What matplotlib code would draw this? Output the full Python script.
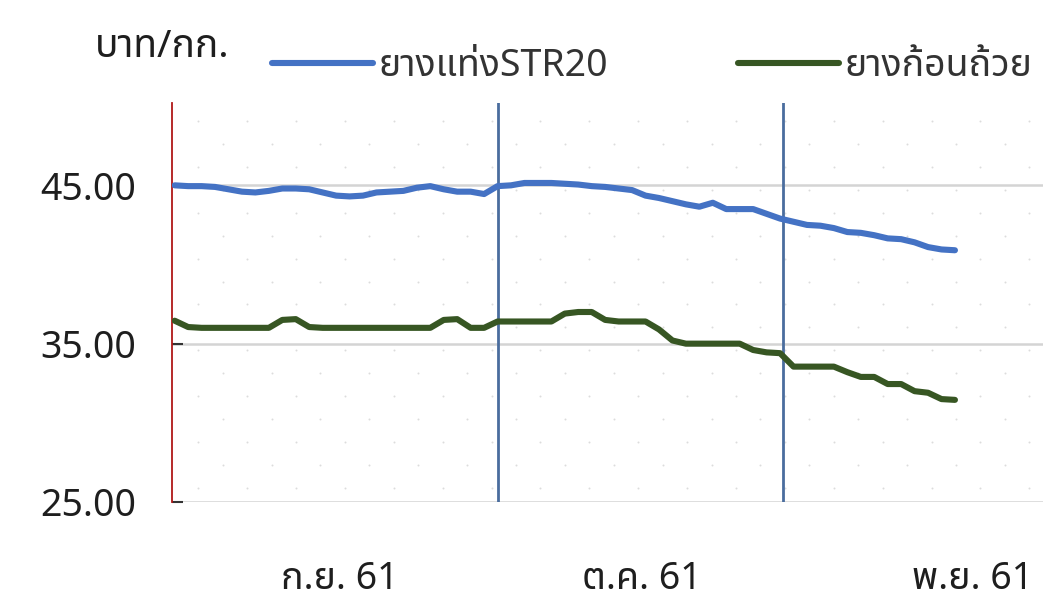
import matplotlib
matplotlib.use("Agg")
import matplotlib.pyplot as plt
from matplotlib import font_manager
import numpy as np

# pick an installed font that has Thai glyphs
names = {f.name for f in font_manager.fontManager.ttflist}
prefer = ["Noto Sans Thai", "Noto Sans Thai UI", "Sarabun", "IBM Plex Sans Thai", "Anuphan", "Bai Jamjuree"]
thai = next((n for n in prefer if n in names), "DejaVu Sans")
plt.rcParams["font.family"] = [thai, "Noto Sans", "DejaVu Sans"]

# daily prices, Sep - Nov 2018 (baht/kg)
str20 = [45.0, 44.95, 44.95, 44.9, 44.75, 44.6, 44.55, 44.65, 44.8, 44.8,
         44.75, 44.55, 44.35, 44.3, 44.35, 44.55, 44.6, 44.65, 44.85, 44.95,
         44.75, 44.6, 44.6, 44.45, 44.95, 45.0, 45.15, 45.15, 45.15, 45.1,
         45.05, 44.95, 44.9, 44.8, 44.7, 44.35, 44.2, 44.0, 43.8, 43.65,
         43.9, 43.5, 43.5, 43.5, 43.2, 42.9, 42.7, 42.5, 42.45, 42.3,
         42.05, 42.0, 41.85, 41.65, 41.6, 41.4, 41.1, 40.95, 40.9]
cup_lump = [36.45, 36.05, 36.0, 36.0, 36.0, 36.0, 36.0, 36.0, 36.5, 36.55,
            36.05, 36.0, 36.0, 36.0, 36.0, 36.0, 36.0, 36.0, 36.0, 36.0,
            36.5, 36.55, 36.0, 36.0, 36.4, 36.4, 36.4, 36.4, 36.4, 36.9,
            37.0, 37.0, 36.5, 36.4, 36.4, 36.4, 35.9, 35.2, 35.0, 35.0,
            35.0, 35.0, 35.0, 34.6, 34.45, 34.4, 33.55, 33.55, 33.55, 33.55,
            33.2, 32.9, 32.9, 32.45, 32.45, 32.0, 31.9, 31.5, 31.45]
days = np.arange(len(str20))

month_breaks = [24, 45.2]
month_pos = [12.3, 34.7, 59.3]
month_labels = ["ก.ย. 61", "ต.ค. 61", "พ.ย. 61"]
yticks = [25, 35, 45]

fig = plt.figure(figsize=(10.43, 6.05), dpi=100)
ax = fig.add_axes([172 / 1043, 103 / 605, 1 - 172 / 1043 + 0.002, 399 / 605])

# faint dotted pattern of the plot area
for r, yy in enumerate(np.arange(0.035, 1.0, 0.0575)):
    xx = np.arange(0.03 + (r % 2) * 0.028, 1.0, 0.056)
    ax.scatter(xx, np.full_like(xx, yy), s=2, color="#dcdcdc", transform=ax.transAxes,
               zorder=0, linewidths=0)

for y in yticks:
    ax.axhline(y, color="#d4d4d4", lw=1.8, zorder=1)

for b in month_breaks:
    ax.axvline(b, color="#4a6d9e", lw=2, zorder=3)

ax.plot(days, str20, color="#4472c4", lw=4.4, label="ยางแท่งSTR20", zorder=4,
        solid_joinstyle="round", solid_capstyle="round")
ax.plot(days, cup_lump, color="#375623", lw=4.4, label="ยางก้อนถ้วย", zorder=4,
        solid_joinstyle="round", solid_capstyle="round")

ax.set_xlim(-0.2, 64.7)
ax.set_ylim(25, 50.2)
ax.set_yticks(yticks, [f"{v:.2f}" for v in yticks])
ax.set_xticks(month_pos, month_labels)
for s in ["top", "right", "bottom"]:
    ax.spines[s].set_visible(False)
ax.spines["left"].set_color("#b01818")
ax.spines["left"].set_linewidth(1.3)
ax.tick_params(axis="y", direction="in", length=8, width=1.5, color="#333333",
               labelsize=27, pad=26, labelcolor="#1e1e1e")
ax.tick_params(axis="x", length=0, labelsize=27, pad=42, labelcolor="#1e1e1e")
for t in ax.get_xticklabels() + ax.get_yticklabels():
    t.set_fontweight("semibold")
    t.set_clip_on(False)

fig.text(95 / 1043, 1 - 47 / 605, "บาท/กก.", fontsize=28, va="center", ha="left",
         color="#1e1e1e", fontweight="semibold")

ax.legend(loc="center left", bbox_to_anchor=(272 / 1043, 1 - 66 / 605),
          bbox_transform=fig.transFigure, ncol=2, frameon=False, fontsize=27,
          handlelength=2.7, handletextpad=0.15, columnspacing=3.45,
          borderpad=0, borderaxespad=0, labelcolor="#333333")

fig.savefig("out.png", dpi=100)
